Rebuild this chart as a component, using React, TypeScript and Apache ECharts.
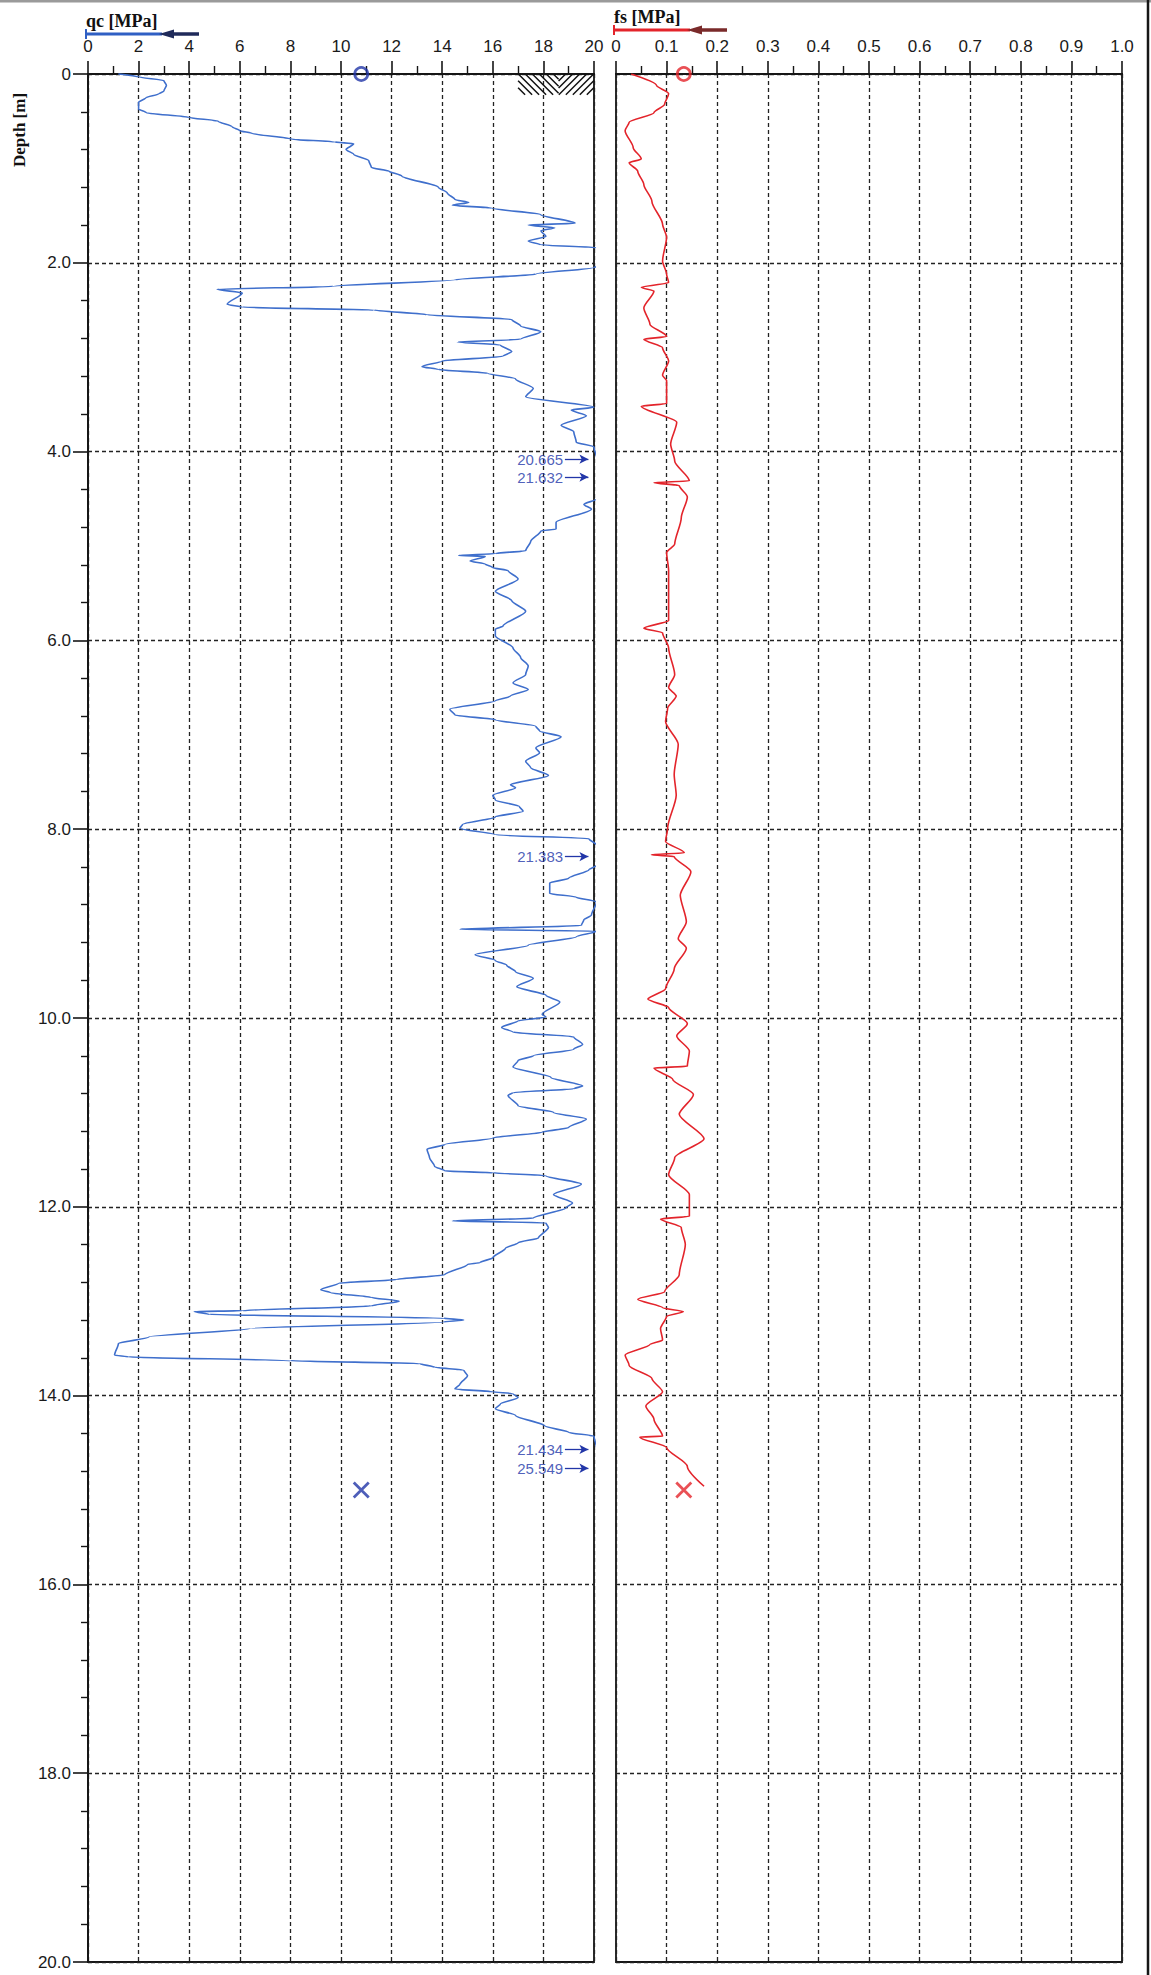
import { useEffect, useRef } from 'react';
import * as echarts from 'echarts';

// qc profile (cone resistance): depth [m] / qc [MPa]
const qcDepth = [
  0.0, 0.03, 0.07, 0.12, 0.18, 0.21, 0.25, 0.3, 0.37, 0.41, 0.46, 0.5, 0.56, 0.6, 0.63, 0.69, 0.72, 0.74, 0.8, 0.85,
  0.92, 0.99, 1.03, 1.08, 1.2, 1.26, 1.33, 1.36, 1.39, 1.42, 1.49, 1.58, 1.6, 1.63, 1.66, 1.72, 1.77, 1.81, 1.84, 1.95,
  2.04, 2.05, 2.12, 2.18, 2.25, 2.28, 2.32, 2.44, 2.47, 2.5, 2.55, 2.6, 2.67, 2.73, 2.81, 2.84, 2.87, 2.94, 2.99, 3.04,
  3.1, 3.13, 3.17, 3.23, 3.33, 3.42, 3.53, 3.56, 3.62, 3.72, 3.79, 3.9, 3.95, 4.08, 4.27, 4.5, 4.56, 4.61, 4.75, 4.82,
  4.84, 4.95, 5.05, 5.08, 5.1, 5.11, 5.16, 5.19, 5.23, 5.26, 5.35, 5.48, 5.58, 5.69, 5.85, 5.88, 5.95, 6.08, 6.18, 6.27,
  6.36, 6.45, 6.52, 6.59, 6.64, 6.73, 6.79, 6.84, 6.91, 6.96, 7.02, 7.14, 7.19, 7.28, 7.35, 7.43, 7.53, 7.56, 7.64, 7.69,
  7.76, 7.81, 7.87, 7.95, 7.99, 8.06, 8.1, 8.17, 8.29, 8.38, 8.43, 8.52, 8.57, 8.68, 8.72, 8.77, 8.91, 8.96, 9.02, 9.06,
  9.08, 9.14, 9.23, 9.33, 9.39, 9.44, 9.51, 9.58, 9.67, 9.76, 9.83, 9.96, 9.99, 10.03, 10.1, 10.15, 10.2, 10.28, 10.33, 10.4,
  10.45, 10.52, 10.63, 10.72, 10.75, 10.79, 10.82, 10.93, 11.0, 11.07, 11.16, 11.21, 11.27, 11.34, 11.39, 11.48, 11.57, 11.62, 11.64, 11.67,
  11.76, 11.87, 11.96, 12.01, 12.12, 12.15, 12.17, 12.22, 12.33, 12.38, 12.44, 12.54, 12.59, 12.61, 12.72, 12.77, 12.81, 12.88, 12.91, 12.96,
  13.0, 13.05, 13.1, 13.11, 13.14, 13.18, 13.2, 13.22, 13.29, 13.38, 13.45, 13.57, 13.59, 13.63, 13.66, 13.7, 13.73, 13.79, 13.88, 13.93,
  13.96, 13.98, 14.02, 14.09, 14.14, 14.21, 14.32, 14.39, 14.43, 14.57, 14.77, 14.96,
];
const qcValue = [
  1.2, 2.0, 3.0, 3.1, 3.0, 2.8, 2.3, 2.0, 2.0, 2.3, 4.0, 5.15, 5.7, 6.0, 6.5, 8.05, 9.75, 10.5, 10.2, 10.5,
  11.1, 11.2, 11.9, 12.4, 13.85, 14.2, 14.5, 15.05, 14.4, 15.95, 17.9, 19.25, 17.4, 18.45, 17.9, 18.1, 17.4, 17.9, 20.3, 20.5,
  20.3, 20.0, 17.7, 14.5, 9.7, 5.1, 6.1, 5.5, 6.1, 11.3, 13.4, 16.75, 17.1, 17.9, 17.1, 14.6, 16.3, 16.75, 16.4, 14.0,
  13.2, 13.85, 15.8, 16.9, 17.6, 17.3, 20.0, 19.1, 19.7, 18.7, 19.2, 19.3, 20.0, 20.665, 21.632, 20.2, 19.6, 19.9, 18.5, 18.5,
  17.9, 17.5, 17.3, 16.1, 14.65, 15.7, 15.1, 15.7, 16.0, 16.6, 17.0, 16.1, 16.75, 17.3, 16.4, 16.1, 16.1, 16.8, 17.1, 17.4,
  17.3, 16.8, 17.4, 16.7, 16.1, 14.3, 14.5, 16.1, 17.7, 17.85, 18.7, 17.7, 17.85, 17.3, 17.5, 18.2, 16.7, 16.9, 16.0, 16.1,
  17.05, 17.2, 16.1, 14.8, 14.7, 16.1, 19.8, 20.2, 21.383, 20.2, 19.8, 19.0, 18.25, 18.25, 19.3, 20.1, 19.9, 19.6, 19.5, 14.7,
  20.1, 19.3, 17.4, 15.3, 16.1, 16.55, 16.9, 17.6, 16.95, 18.1, 18.65, 17.95, 18.1, 17.0, 16.35, 16.8, 19.2, 19.55, 19.2, 17.6,
  17.0, 16.8, 18.3, 19.55, 19.2, 16.8, 16.6, 17.0, 18.4, 19.7, 19.0, 17.95, 16.0, 14.1, 13.4, 13.5, 13.7, 14.1, 16.0, 18.1,
  19.5, 18.4, 19.15, 18.9, 17.6, 14.4, 18.1, 18.2, 17.8, 17.0, 16.5, 16.0, 15.5, 15.0, 14.1, 12.2, 9.9, 9.2, 9.6, 11.2,
  12.3, 11.2, 6.1, 4.2, 4.8, 14.05, 14.85, 14.05, 6.4, 2.4, 1.2, 1.05, 1.6, 8.0, 13.1, 13.7, 14.85, 15.0, 14.7, 14.5,
  16.0, 16.8, 17.0, 16.3, 16.1, 16.9, 18.05, 19.0, 20.0, 21.434, 25.549, 25.549,
];

// fs profile (sleeve friction): depth [m] / fs [MPa]
const fsDepth = [
  0.0, 0.12, 0.21, 0.32, 0.41, 0.51, 0.6, 0.78, 0.9, 0.94, 1.03, 1.17, 1.35, 1.59, 1.73, 1.98, 2.12, 2.21, 2.26, 2.3,
  2.48, 2.65, 2.78, 2.81, 2.9, 3.04, 3.19, 3.25, 3.49, 3.52, 3.69, 3.92, 4.1, 4.31, 4.33, 4.36, 4.48, 4.7, 4.98, 5.07,
  5.26, 5.79, 5.87, 5.92, 6.08, 6.36, 6.5, 6.59, 6.72, 6.86, 7.1, 7.42, 7.64, 7.99, 8.13, 8.25, 8.27, 8.29, 8.45, 8.7,
  8.98, 9.16, 9.26, 9.48, 9.69, 9.8, 9.89, 10.06, 10.19, 10.35, 10.51, 10.53, 10.65, 10.81, 11.02, 11.28, 11.48, 11.66, 11.87, 12.1,
  12.13, 12.22, 12.4, 12.72, 12.9, 12.98, 13.07, 13.11, 13.16, 13.29, 13.41, 13.46, 13.57, 13.68, 13.82, 13.96, 14.11, 14.25, 14.43, 14.44,
  14.55, 14.75, 14.96,
];
const fsValue = [
  0.03, 0.08, 0.104, 0.096, 0.075, 0.026, 0.018, 0.034, 0.05, 0.026, 0.043, 0.055, 0.071, 0.092, 0.1, 0.092, 0.1, 0.104, 0.05, 0.075,
  0.055, 0.067, 0.1, 0.055, 0.092, 0.104, 0.092, 0.1, 0.1, 0.05, 0.12, 0.108, 0.116, 0.145, 0.075, 0.125, 0.141, 0.129, 0.116, 0.1,
  0.104, 0.104, 0.055, 0.092, 0.104, 0.116, 0.104, 0.119, 0.102, 0.098, 0.123, 0.115, 0.119, 0.102, 0.098, 0.135, 0.07, 0.115, 0.148, 0.127,
  0.139, 0.123, 0.139, 0.115, 0.098, 0.063, 0.104, 0.141, 0.12, 0.145, 0.141, 0.075, 0.112, 0.153, 0.125, 0.174, 0.116, 0.104, 0.145, 0.145,
  0.088, 0.129, 0.137, 0.125, 0.096, 0.043, 0.092, 0.133, 0.1, 0.088, 0.092, 0.067, 0.018, 0.026, 0.071, 0.092, 0.059, 0.075, 0.092, 0.047,
  0.1, 0.141, 0.174,
];

// values beyond the qc scale, written next to the right edge
const overLabels = ['20.665', '21.632', '21.383', '21.434', '25.549'];
const overDepths = [4.08, 4.27, 8.29, 14.57, 14.77];

// start / end markers
const qcStart = [10.8, 0];
const qcEnd = [10.8, 15.0];
const fsStart = [0.134, 0];
const fsEnd = [0.134, 15.0];

const QC_CLIP = 20.12;
const HATCH = { from: 17, mid: 18.6, to: 20, depth: 0.22 };

const BLUE = '#3f6fcc';
const NAVY = '#2236a8';
const RED = '#e3242b';
const INK = '#161616';

const cross = 'path://M0,0L10,10M10,0L0,10';

export default function App() {
  const chartRef = useRef<HTMLDivElement>(null);

  useEffect(() => {
    if (!chartRef.current) return;
    const chart = echarts.init(chartRef.current, null, { renderer: 'svg' });

    const qcData = qcDepth.map((d, i) => [Math.min(qcValue[i], QC_CLIP), d]);
    const fsData = fsDepth.map((d, i) => [fsValue[i], d]);

    const dashed = { color: '#222', width: 1.3, type: [4, 3] as number[] };

    const topAxis = (gridIndex: number, max: number, interval: number, fmt: (v: number) => string) => ({
      type: 'value' as const,
      gridIndex,
      position: 'top' as const,
      min: 0,
      max,
      interval,
      axisLine: { show: true, lineStyle: { color: INK, width: 2 } },
      axisTick: { show: true, length: 13, lineStyle: { color: INK, width: 1.6 } },
      minorTick: { show: true, splitNumber: 2, length: 8, lineStyle: { color: INK, width: 1.4 } },
      axisLabel: {
        show: true,
        margin: 19,
        fontSize: 17,
        color: '#1a1a1a',
        fontFamily: 'Liberation Sans, Arial, sans-serif',
        formatter: fmt,
      },
      splitLine: { show: true, lineStyle: dashed },
    });

    const depthAxis = (gridIndex: number, labels: boolean) => ({
      type: 'value' as const,
      gridIndex,
      inverse: true,
      min: 0,
      max: 20,
      interval: 2,
      axisLine: { show: labels, lineStyle: { color: INK, width: 2 } },
      axisTick: { show: labels, length: 15, lineStyle: { color: INK, width: 1.6 } },
      minorTick: { show: labels, splitNumber: 5, length: 7, lineStyle: { color: INK, width: 1.4 } },
      axisLabel: {
        show: labels,
        margin: 17,
        fontSize: 17,
        color: '#1a1a1a',
        fontFamily: 'Liberation Sans, Arial, sans-serif',
        formatter: (v: number) => (v === 0 ? '0' : v.toFixed(1)),
      },
      splitLine: { show: true, lineStyle: dashed },
    });

    const option: any = {
      animation: false,
      backgroundColor: '#ffffff',
      grid: [
        { left: 88, top: 74, width: 506, height: 1888, show: true, borderColor: INK, borderWidth: 1.8 },
        { left: 616, top: 74, width: 506, height: 1888, show: true, borderColor: INK, borderWidth: 1.8 },
      ],
      xAxis: [
        topAxis(0, 20, 2, (v: number) => String(v)),
        topAxis(1, 1, 0.1, (v: number) => (v === 0 ? '0' : v.toFixed(1))),
      ],
      yAxis: [depthAxis(0, true), depthAxis(1, false)],
      graphic: [
        { type: 'line', shape: { x1: 0, y1: 1, x2: 1151, y2: 1 }, style: { stroke: '#9a9a9a', lineWidth: 3 } },
        { type: 'line', shape: { x1: 1148, y1: 0, x2: 1148, y2: 1975 }, style: { stroke: INK, lineWidth: 2.5 } },
        {
          type: 'text', x: 86, y: 21,
          style: { text: 'qc [MPa]', font: 'bold 18px "Liberation Serif", "Times New Roman", serif', fill: '#111', textVerticalAlign: 'middle' },
        },
        { type: 'line', shape: { x1: 86, y1: 34, x2: 162, y2: 34 }, style: { stroke: '#2f5fc4', lineWidth: 3 } },
        { type: 'line', shape: { x1: 86, y1: 29, x2: 86, y2: 39 }, style: { stroke: '#2f5fc4', lineWidth: 2 } },
        {
          type: 'polygon',
          shape: { points: [[159, 34], [174, 29.5], [174, 32.3], [199, 32.3], [199, 35.7], [174, 35.7], [174, 38.5]] },
          style: { fill: '#1f2a5a' },
        },
        {
          type: 'text', x: 614, y: 17,
          style: { text: 'fs [MPa]', font: 'bold 18px "Liberation Serif", "Times New Roman", serif', fill: '#111', textVerticalAlign: 'middle' },
        },
        { type: 'line', shape: { x1: 614, y1: 30, x2: 690, y2: 30 }, style: { stroke: RED, lineWidth: 3 } },
        { type: 'line', shape: { x1: 614, y1: 25, x2: 614, y2: 35 }, style: { stroke: RED, lineWidth: 2 } },
        {
          type: 'polygon',
          shape: { points: [[687, 30], [702, 25.5], [702, 28.3], [727, 28.3], [727, 31.7], [702, 31.7], [702, 34.5]] },
          style: { fill: '#7a2a2a' },
        },
        {
          type: 'text', x: 19, y: 130, rotation: Math.PI / 2,
          style: {
            text: 'Depth [m]', font: 'bold 17px "Liberation Serif", "Times New Roman", serif', fill: '#111',
            textAlign: 'center', textVerticalAlign: 'middle',
          },
        },
      ],
      series: [
        {
          type: 'custom',
          xAxisIndex: 0,
          yAxisIndex: 0,
          clip: false,
          silent: true,
          data: [[HATCH.from, 0]],
          renderItem: (_p: any, api: any) => {
            const a = api.coord([HATCH.from, 0]);
            const m = api.coord([HATCH.mid, 0]);
            const b = api.coord([HATCH.to, HATCH.depth]);
            const x0 = a[0], y0 = a[1], xm = m[0], x1 = b[0], y1 = b[1];
            const h = y1 - y0;
            const children: any[] = [];
            const style = { stroke: '#111', lineWidth: 1.5 };
            for (let s = x0 - h; s < xm; s += 7) {
              const t0 = Math.max(0, (x0 - s) / h);
              const t1 = Math.min(1, (xm - s) / h);
              if (t1 > t0) {
                children.push({ type: 'line', shape: { x1: s + t0 * h, y1: y0 + t0 * h, x2: s + t1 * h, y2: y0 + t1 * h }, style });
              }
            }
            for (let s = xm - h; s < x1; s += 7) {
              const t0 = Math.max(0, (xm - s) / h);
              const t1 = Math.min(1, (x1 - s) / h);
              if (t1 > t0) {
                children.push({ type: 'line', shape: { x1: s + t0 * h, y1: y1 - t0 * h, x2: s + t1 * h, y2: y1 - t1 * h }, style });
              }
            }
            return { type: 'group', children };
          },
        },
        {
          name: 'qc',
          type: 'line',
          xAxisIndex: 0,
          yAxisIndex: 0,
          data: qcData,
          showSymbol: false,
          clip: false,
          smooth: 0.25,
          smoothMonotone: 'y',
          lineStyle: { color: BLUE, width: 1.6 },
        },
        {
          name: 'fs',
          type: 'line',
          xAxisIndex: 1,
          yAxisIndex: 1,
          data: fsData,
          showSymbol: false,
          smooth: 0.25,
          smoothMonotone: 'y',
          lineStyle: { color: RED, width: 1.6 },
        },
        {
          name: 'over',
          type: 'scatter',
          xAxisIndex: 0,
          yAxisIndex: 0,
          symbolSize: 0,
          clip: false,
          data: overDepths.map((d, i) => ({ name: overLabels[i], value: [18.78, d] })),
          label: {
            show: true,
            position: 'left',
            distance: 0,
            formatter: '{b}',
            color: NAVY,
            fontSize: 15,
            fontFamily: 'Liberation Sans, Arial, sans-serif',
          },
          markLine: {
            silent: true,
            symbol: ['none', 'arrow'],
            symbolSize: [7, 9],
            label: { show: false },
            lineStyle: { color: NAVY, width: 1.3, type: 'solid' },
            data: overDepths.map((d) => [{ coord: [18.85, d] }, { coord: [19.78, d] }]),
          },
        },
        {
          type: 'scatter',
          xAxisIndex: 0,
          yAxisIndex: 0,
          clip: false,
          symbol: 'circle',
          symbolSize: 13,
          itemStyle: { color: 'rgba(0,0,0,0)', borderColor: NAVY, borderWidth: 2.8 },
          data: [qcStart],
        },
        {
          type: 'scatter',
          xAxisIndex: 0,
          yAxisIndex: 0,
          clip: false,
          symbol: cross,
          symbolSize: 15,
          itemStyle: { color: 'rgba(0,0,0,0)', borderColor: NAVY, borderWidth: 2.8 },
          data: [qcEnd],
        },
        {
          type: 'scatter',
          xAxisIndex: 1,
          yAxisIndex: 1,
          clip: false,
          symbol: 'circle',
          symbolSize: 13,
          itemStyle: { color: 'rgba(0,0,0,0)', borderColor: RED, borderWidth: 2.8 },
          data: [fsStart],
        },
        {
          type: 'scatter',
          xAxisIndex: 1,
          yAxisIndex: 1,
          clip: false,
          symbol: cross,
          symbolSize: 15,
          itemStyle: { color: 'rgba(0,0,0,0)', borderColor: RED, borderWidth: 2.8 },
          data: [fsEnd],
        },
      ],
    };

    chart.setOption(option);
    return () => {
      chart.dispose();
    };
  }, []);

  return (
    <div
      ref={chartRef}
      style={{ position: 'absolute', left: 0, top: 0, width: '1151px', height: '1975px', background: '#fff' }}
    />
  );
}
